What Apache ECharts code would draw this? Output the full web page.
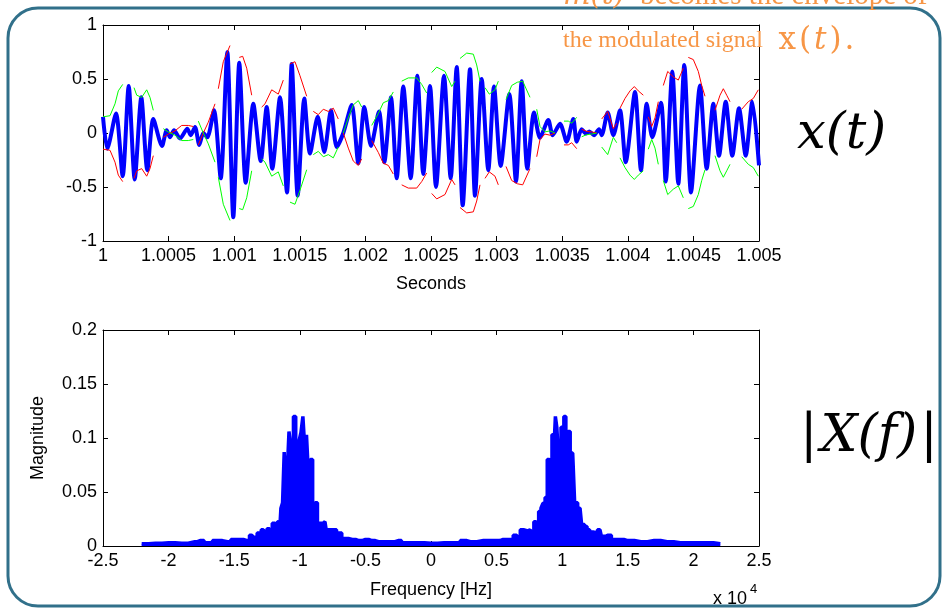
<!DOCTYPE html>
<html>
<head>
<meta charset="utf-8">
<script src="https://cdn.jsdelivr.net/npm/echarts@6/dist/echarts.min.js"></script>
<style>
html,body{margin:0;padding:0;background:#fff;}
#c{width:944px;height:612px;}
</style>
</head>
<body>
<div id="c"></div>
<script>
// ---------- DATA ----------
// Top plot: modulated signal x(t) (extrema), time in seconds
const sigTime = [1.0000000,1.0000328,1.0000991,1.0001502,1.0001959,1.0002416,1.0002919,1.0003377,1.0003834,1.0004497,
1.0004855,1.0005107,1.0005412,1.0005869,1.0006425,1.0006685,1.0007012,1.0007340,1.0007645,1.0007950,
1.0008460,1.0008971,1.0009474,1.0009931,1.0010389,1.0010877,1.0011456,1.0012020,1.0012477,1.0012904,
1.0013491,1.0014024,1.0014383,1.0014840,1.0015343,1.0015778,1.0016365,1.0016868,1.0017378,1.0017813,
1.0018316,1.0018956,1.0019459,1.0019916,1.0020427,1.0021037,1.0021441,1.0021951,1.0022386,1.0022889,
1.0023453,1.0023956,1.0024414,1.0024924,1.0025381,1.0025991,1.0026502,1.0026959,1.0027416,1.0027973,
1.0028354,1.0028865,1.0029368,1.0029802,1.0030313,1.0030968,1.0031479,1.0031913,1.0032340,1.0032851,
1.0033308,1.0033941,1.0034276,1.0034833,1.0035343,1.0035846,1.0036105,1.0036486,1.0036814,1.0037066,
1.0037424,1.0037805,1.0038011,1.0038468,1.0038895,1.0039406,1.0039840,1.0040549,1.0041006,1.0041441,
1.0041868,1.0042531,1.0042889,1.0043392,1.0043850,1.0044307,1.0044817,1.0045503,1.0046014,1.0046517,
1.0046952,1.0047462,1.0047965,1.0048476,1.0048987,1.0049490,1.0050000];
const sigValue = [0.15,-0.145,0.18,-0.40,0.435,-0.43,0.33,-0.345,0.13,-0.12,
0.025,-0.04,0.025,-0.05,0.04,-0.02,0.055,-0.11,0.0,-0.04,
0.21,-0.42,0.75,-0.78,0.65,-0.46,0.27,-0.26,0.24,-0.33,
0.33,-0.55,0.64,-0.58,0.32,-0.19,0.15,-0.175,0.21,-0.13,
0.0,0.26,-0.28,0.24,-0.12,0.20,-0.27,0.33,-0.42,0.43,
-0.42,0.53,-0.38,0.435,-0.50,0.53,-0.42,0.61,-0.67,0.59,
-0.58,0.50,-0.345,0.43,-0.305,0.36,-0.45,0.48,-0.33,0.19,
-0.045,0.12,-0.02,0.085,-0.08,0.13,-0.08,0.035,-0.005,0.015,
-0.02,0.035,-0.02,0.19,-0.02,0.21,-0.27,0.38,-0.345,0.27,
-0.04,0.28,-0.45,0.57,-0.47,0.63,-0.55,0.44,-0.33,0.27,
-0.21,0.29,-0.21,0.23,-0.21,0.29,-0.30];

// Envelope m(t) (red) and -m(t) (green), drawn in pieces; null = gap
const envTime = [
1.0000000,1.0000534,1.0000915,1.0001166,1.0001502,null,
1.0002363,1.0002569,1.0002950,1.0003331,1.0003582,1.0003834,null,
1.0004596,1.0004977,1.0005488,1.0005998,1.0006502,1.0006883,null,
1.0007264,1.0007645,1.0008026,1.0008537,null,
1.0008788,1.0009169,1.0009680,null,
1.0010389,1.0010648,1.0010953,1.0011334,null,
1.0012096,1.0012348,1.0012858,1.0013361,1.0013742,null,
1.0014253,1.0014634,1.0015015,1.0015526,null,
1.0016029,1.0016410,1.0016791,1.0017172,1.0017553,1.0017934,null,
1.0018316,1.0018697,1.0019078,1.0019459,1.0019718,null,
1.0020480,1.0020983,1.0021364,1.0021746,1.0022127,null,
1.0022767,1.0023270,1.0023910,1.0024291,1.0024672,null,
1.0025054,1.0025435,1.0026067,1.0026578,1.0026829,null,
1.0027210,1.0027721,1.0028224,1.0028483,1.0028735,null,
1.0029116,1.0029444,1.0029878,1.0030130,null,
1.0030717,1.0031151,1.0031578,1.0031990,1.0032546,null,
1.0033057,1.0033308,1.0033689,1.0034070,1.0034451,null,
1.0035137,1.0035465,1.0035724,1.0036105,null,
1.0036486,1.0036867,1.0037248,1.0037630,null,
1.0038011,1.0038468,1.0038895,1.0039154,null,
1.0039406,1.0039787,1.0040168,1.0040496,1.0040801,1.0041182,null,
1.0041563,1.0041822,1.0042074,1.0042325,null,
1.0042706,1.0043042,1.0043468,1.0043850,1.0044231,null,
1.0044612,1.0044993,1.0045374,1.0045633,1.0045885,null,
1.0046647,1.0047028,1.0047280,1.0047539,1.0047790,null,
1.0048682,1.0049185,1.0049566,1.0049947];
const envRed = [
-0.15,-0.16,-0.27,-0.39,-0.45,null,
-0.42,-0.35,-0.33,-0.40,-0.33,-0.21,null,
-0.04,-0.01,0.02,0.07,0.07,0.06,null,
-0.11,0.0,0.10,0.27,null,
0.41,0.66,0.81,null,
0.70,0.71,0.60,0.35,null,
0.24,0.27,0.40,0.36,0.49,null,
0.64,0.66,0.53,0.34,null,
0.20,0.17,0.22,0.20,0.23,0.13,null,
0.0,-0.14,-0.26,-0.30,-0.24,null,
-0.07,-0.18,-0.28,-0.30,-0.38,null,
-0.48,-0.51,-0.51,-0.45,-0.37,null,
-0.56,-0.61,-0.57,-0.43,-0.48,null,
-0.69,-0.74,-0.73,-0.63,-0.48,null,
-0.42,-0.36,-0.40,-0.48,null,
-0.31,-0.44,-0.47,-0.48,-0.33,null,
-0.22,-0.06,-0.01,-0.02,0.0,null,
-0.11,-0.11,-0.09,-0.145,null,
0.035,0.015,0.01,0.0,null,
0.13,0.20,0.04,0.09,null,
0.23,0.32,0.39,0.43,0.39,0.35,null,
0.15,0.06,0.14,0.29,null,
0.44,0.57,0.52,0.49,0.60,null,
0.70,0.68,0.57,0.44,0.34,null,
0.21,0.35,0.41,0.35,0.29,null,
0.22,0.29,0.32,0.40];
const envGreen = [
0.15,0.16,0.27,0.39,0.45,null,
0.42,0.35,0.33,0.40,0.33,0.21,null,
0.04,0.01,-0.02,-0.07,-0.07,-0.06,null,
0.11,0.0,-0.10,-0.27,null,
-0.41,-0.66,-0.81,null,
-0.70,-0.71,-0.60,-0.35,null,
-0.24,-0.27,-0.40,-0.36,-0.49,null,
-0.64,-0.66,-0.53,-0.34,null,
-0.20,-0.17,-0.22,-0.20,-0.23,-0.13,null,
0.0,0.14,0.26,0.30,0.24,null,
0.07,0.18,0.28,0.30,0.38,null,
0.48,0.51,0.51,0.45,0.37,null,
0.56,0.61,0.57,0.43,0.48,null,
0.69,0.74,0.73,0.63,0.48,null,
0.42,0.36,0.40,0.48,null,
0.31,0.44,0.47,0.48,0.33,null,
0.22,0.06,0.01,0.02,0.0,null,
0.11,0.11,0.09,0.145,null,
-0.035,-0.015,-0.01,0.0,null,
-0.13,-0.20,-0.04,-0.09,null,
-0.23,-0.32,-0.39,-0.43,-0.39,-0.35,null,
-0.15,-0.06,-0.14,-0.29,null,
-0.44,-0.57,-0.52,-0.49,-0.60,null,
-0.70,-0.68,-0.57,-0.44,-0.34,null,
-0.21,-0.35,-0.41,-0.35,-0.29,null,
-0.22,-0.29,-0.32,-0.40];

// Bottom plot: |X(f)|, frequency in units of 10^4 Hz
const freq = [-2.205,-2.1,-2.0,-1.9,-1.8,-1.76,-1.7,-1.63,-1.55,-1.5,-1.43,-1.4,-1.367,-1.34,-1.31,-1.278,-1.26,-1.24,-1.22,-1.2,
-1.18,-1.164,-1.15,-1.138,-1.125,-1.113,-1.105,-1.09,-1.075,-1.06,-1.037,-1.025,-1.011,-0.998,-0.985,-0.968,-0.955,-0.943,-0.93,-0.909,
-0.895,-0.871,-0.86,-0.84,-0.808,-0.79,-0.76,-0.74,-0.7,-0.66,-0.6,-0.55,-0.5,-0.45,-0.4,-0.3,-0.25,-0.2,-0.1,0,
0.1,0.2,0.246,0.3,0.4,0.5,0.55,0.6,0.653,0.67,0.691,0.72,0.755,0.775,0.793,0.81,0.831,0.845,0.861,0.878,
0.894,0.912,0.932,0.943,0.953,0.965,0.978,1.004,1.021,1.035,1.052,1.07,1.09,1.1,1.136,1.16,1.18,1.199,1.22,1.25,
1.288,1.31,1.35,1.4,1.44,1.5,1.6,1.7,1.8,1.9,2.0,2.1,2.205];
const magnitude = [0.002,0.0025,0.003,0.0025,0.004,0.005,0.003,0.005,0.004,0.006,0.006,0.005,0.010,0.008,0.012,0.015,0.011,0.016,0.014,0.021,
0.019,0.0225,0.022,0.035,0.040,0.087,0.062,0.064,0.106,0.092,0.120,0.085,0.083,0.098,0.105,0.120,0.090,0.103,0.072,0.080,
0.036,0.040,0.021,0.021,0.0225,0.015,0.015,0.015,0.012,0.007,0.006,0.005,0.006,0.005,0.004,0.004,0.005,0.003,0.003,0.0025,
0.003,0.003,0.005,0.004,0.005,0.005,0.006,0.006,0.010,0.007,0.015,0.014,0.015,0.013,0.0225,0.018,0.032,0.035,0.0395,0.045,
0.080,0.073,0.103,0.092,0.120,0.110,0.083,0.110,0.120,0.095,0.106,0.086,0.087,0.040,0.035,0.020,0.018,0.015,0.013,0.012,
0.015,0.009,0.010,0.006,0.006,0.005,0.004,0.005,0.004,0.003,0.003,0.003,0.002];

// ---------- CHART ----------
const FONT = 'Liberation Sans, Arial, sans-serif';
const pairs = (xs, ys) => xs.map((x, i) => [x === null ? NaN : x, ys[i] === null ? NaN : ys[i]]);
const fmt = v => String(parseFloat((+v).toFixed(4)));

const tickStyle = {show: true, inside: true, length: 5, lineStyle: {color: '#000', width: 1}};
const lineStyle = {show: true, onZero: false, lineStyle: {color: '#000', width: 1}};
const labelStyle = {color: '#000', fontFamily: FONT, fontSize: 18, formatter: fmt, showMinLabel: true, showMaxLabel: true, margin: 6};
const nameStyle = {color: '#000', fontFamily: FONT, fontSize: 18};
const ORANGE = '#f79646';
const mathPiece = {fontFamily: 'DejaVu Serif', fontSize: 31, fill: ORANGE, padding: [0, 1.5, 0, 1.5]};

const chart = echarts.init(document.getElementById('c'), null, {renderer: 'canvas'});
chart.setOption({
  backgroundColor: '#fff',
  animation: false,
  grid: [
    {left: 103, top: 25, width: 656, height: 216},
    {left: 103, top: 330, width: 656, height: 216}
  ],
  xAxis: [
    {type: 'value', gridIndex: 0, min: 1, max: 1.005, interval: 0.0005, position: 'bottom',
     axisLine: lineStyle, axisTick: tickStyle, splitLine: {show: false}, axisLabel: labelStyle,
     name: 'Seconds', nameLocation: 'middle', nameGap: 34, nameTextStyle: nameStyle},
    {type: 'value', gridIndex: 0, min: 1, max: 1.005, interval: 0.0005, position: 'top',
     axisLine: lineStyle, axisTick: tickStyle, splitLine: {show: false}, axisLabel: {show: false}},
    {type: 'value', gridIndex: 1, min: -2.5, max: 2.5, interval: 0.5, position: 'bottom',
     axisLine: lineStyle, axisTick: tickStyle, splitLine: {show: false}, axisLabel: labelStyle,
     name: 'Frequency [Hz]', nameLocation: 'middle', nameGap: 35, nameTextStyle: nameStyle},
    {type: 'value', gridIndex: 1, min: -2.5, max: 2.5, interval: 0.5, position: 'top',
     axisLine: lineStyle, axisTick: tickStyle, splitLine: {show: false}, axisLabel: {show: false}}
  ],
  yAxis: [
    {type: 'value', gridIndex: 0, min: -1, max: 1, interval: 0.5, position: 'left',
     axisLine: lineStyle, axisTick: tickStyle, splitLine: {show: false}, axisLabel: labelStyle},
    {type: 'value', gridIndex: 0, min: -1, max: 1, interval: 0.5, position: 'right',
     axisLine: lineStyle, axisTick: tickStyle, splitLine: {show: false}, axisLabel: {show: false}},
    {type: 'value', gridIndex: 1, min: 0, max: 0.2, interval: 0.05, position: 'left',
     axisLine: lineStyle, axisTick: tickStyle, splitLine: {show: false}, axisLabel: labelStyle,
     name: 'Magnitude', nameLocation: 'middle', nameGap: 56, nameRotate: 90, nameTextStyle: nameStyle},
    {type: 'value', gridIndex: 1, min: 0, max: 0.2, interval: 0.05, position: 'right',
     axisLine: lineStyle, axisTick: tickStyle, splitLine: {show: false}, axisLabel: {show: false}}
  ],
  series: [
    {type: 'line', xAxisIndex: 0, yAxisIndex: 0, data: pairs(sigTime, sigValue),
     showSymbol: false, smooth: 0.25, lineStyle: {color: '#0000ff', width: 4}, z: 2},
    {type: 'line', xAxisIndex: 0, yAxisIndex: 0, data: pairs(envTime, envRed),
     showSymbol: false, connectNulls: false, lineStyle: {color: '#ff0000', width: 1}, z: 3},
    {type: 'line', xAxisIndex: 0, yAxisIndex: 0, data: pairs(envTime, envGreen),
     showSymbol: false, connectNulls: false, lineStyle: {color: '#00ff00', width: 1}, z: 3},
    {type: 'line', xAxisIndex: 2, yAxisIndex: 2, data: pairs(freq, magnitude),
     showSymbol: false, step: 'middle', lineStyle: {color: '#0000ff', width: 3.5},
     areaStyle: {color: '#0000ff', opacity: 1}, z: 2}
  ],
  graphic: [
    {type: 'rect', z: -10, silent: true,
     shape: {x: 8, y: 8, width: 932, height: 598, r: 30},
     style: {fill: 'none', stroke: '#31708a', lineWidth: 3}},
    {type: 'text', left: 563, top: -18, z: 10, silent: true,
     style: {text: '{i|m(t)} becomes the envelope of',
       rich: {i: {fontFamily: 'DejaVu Serif', fontStyle: 'italic', fontSize: 29, fill: ORANGE, padding: [0, 8, 0, 0]}},
       font: '29px "Liberation Serif", serif', fill: ORANGE}},
    {type: 'text', left: 563, top: 25, z: 10, silent: true,
     style: {text: 'the modulated signal {s| }{m|x}{m|(}{i|t}{m|)}{m|.}',
       rich: {
         s: {fontSize: 24, fill: ORANGE, width: 8},
         m: mathPiece,
         i: Object.assign({}, mathPiece, {fontStyle: 'italic'})},
       font: '24px "Liberation Serif", serif', fill: ORANGE}},
    {type: 'text', left: 797, top: 109, z: 10, silent: true,
     style: {text: 'x(t)', font: 'italic 51px "DejaVu Serif", serif', fill: '#000'}},
    {type: 'text', left: 800, top: 411, z: 10, silent: true,
     style: {text: '{a||}{b|X(f)}{a||}',
       rich: {a: {fontFamily: 'DejaVu Serif', fontSize: 52, fill: '#000', padding: [0, 3, 0, 3]},
              b: {fontFamily: 'DejaVu Serif', fontStyle: 'italic', fontSize: 52, fill: '#000'}},
       font: '52px "DejaVu Serif", serif', fill: '#000'}},
    {type: 'text', left: 713, top: 590, z: 10, silent: true,
     style: {text: 'x 10', font: '18px "Liberation Sans", Arial, sans-serif', fill: '#000'}},
    {type: 'text', left: 750, top: 583, z: 10, silent: true,
     style: {text: '4', font: '13px "Liberation Sans", Arial, sans-serif', fill: '#000'}}
  ]
});
</script>
</body>
</html>
